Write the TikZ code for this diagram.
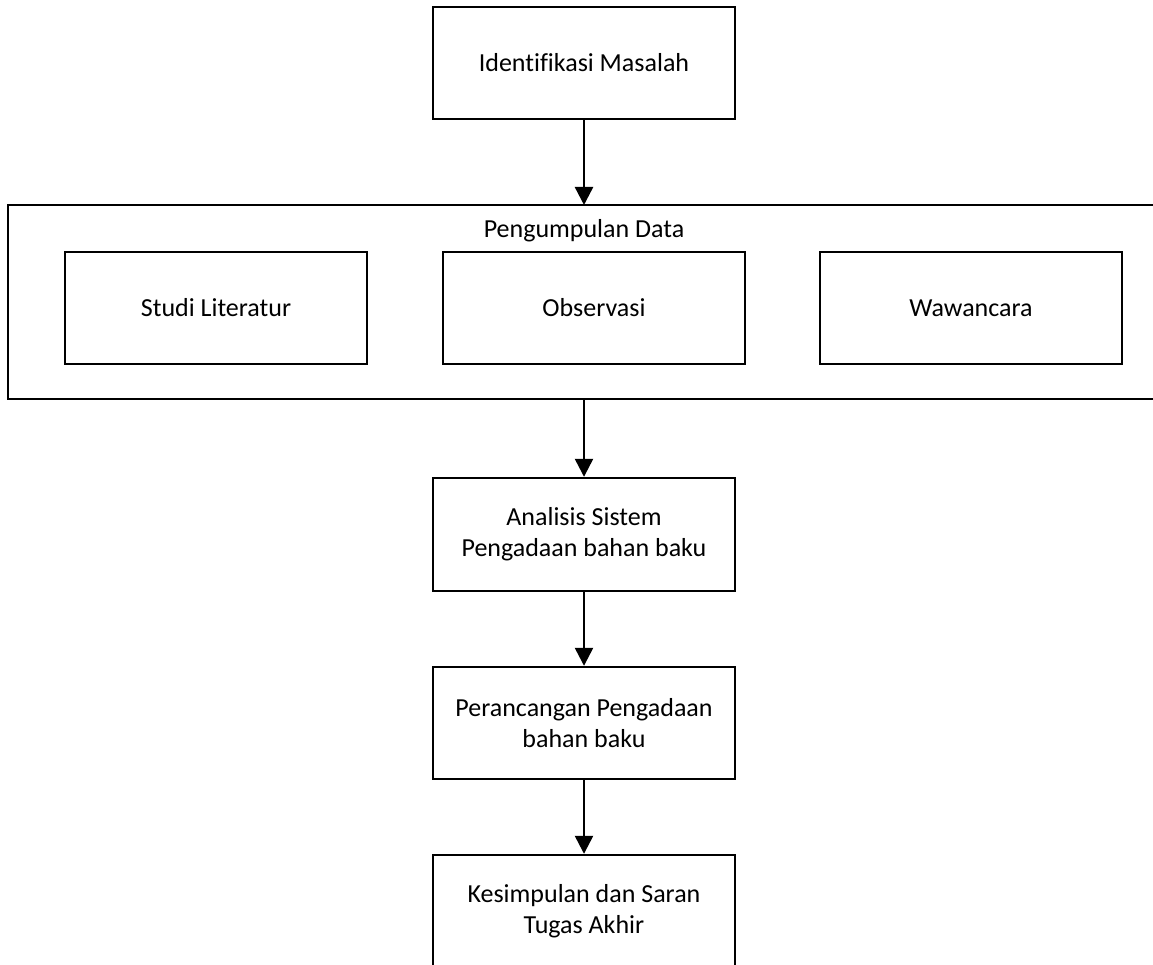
\documentclass[tikz,border=0pt]{standalone}
\usepackage{fontspec}
\setmainfont{Carlito}[Ligatures=CommonOff]
\usetikzlibrary{arrows.meta}
\begin{document}
\begin{tikzpicture}[x=1pt,y=-1pt,
  box/.style={draw,line width=2.4pt,rectangle,inner sep=0pt,align=center,
    font=\fontsize{26}{31}\selectfont},
  lbl/.style={inner sep=0pt,font=\fontsize{26}{31}\selectfont},
  arr/.style={line width=2.4pt,-{Triangle[width=18pt,length=18pt]}}]
\useasboundingbox (0,0) rectangle (1153,965);
\clip (0,0) rectangle (1153,965);
\node[box,minimum width=302pt,minimum height=112pt] (idm) at (584,63) {Identifikasi Masalah};
\node[box,minimum width=1172pt,minimum height=194pt] (pd) at (594,302) {};
\node[lbl] (pdl) at (584,231) {Pengumpulan Data};
\node[box,minimum width=302pt,minimum height=112pt] (sl) at (216,308) {Studi Literatur};
\node[box,minimum width=302pt,minimum height=112pt] (obs) at (594,308) {Observasi};
\node[box,minimum width=302pt,minimum height=112pt] (ww) at (971,308) {Wawancara};
\node[box,minimum width=302pt,minimum height=113pt] (an) at (584,534.5) {Analisis Sistem\\Pengadaan bahan baku};
\node[box,minimum width=302pt,minimum height=112pt] (pr) at (584,723) {Perancangan Pengadaan\\bahan baku};
\node[box,minimum width=302pt,minimum height=112pt] (ks) at (584,911) {Kesimpulan dan Saran\\Tugas Akhir};
\coordinate (pdt) at (584,205);
\coordinate (pdb) at (584,399);
\draw[arr] (idm.south) -- (pdt);
\draw[arr] (pdb) -- (an.north);
\draw[arr] (an.south) -- (pr.north);
\draw[arr] (pr.south) -- (ks.north);
\end{tikzpicture}
\end{document}
